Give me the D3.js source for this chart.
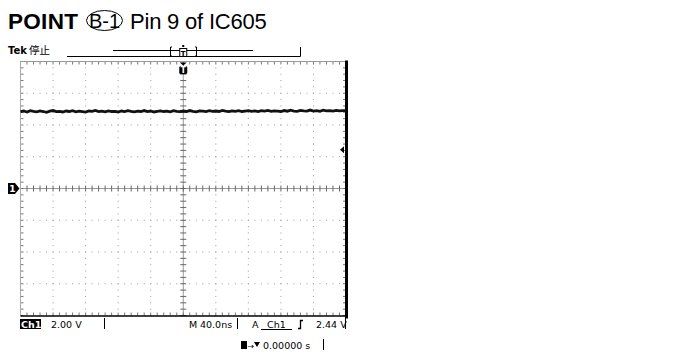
<!DOCTYPE html>
<html><head><meta charset="utf-8">
<script src="https://cdn.jsdelivr.net/npm/d3@7"></script>
<style>body{margin:0;background:#fff}svg{display:block}</style>
</head><body>
<script>
// ---- data ----
const timeDomainNs = [-200, 200];      // 10 div x 40 ns
const voltDomain = [-8, 8];            // 8 div x 2 V
const traceTimes = d3.range(-200, 201, 4);
const traceVolts = [
4.84,4.88,4.82,4.90,4.86,4.83,4.89,4.85,4.80,4.87,
4.91,4.84,4.86,4.82,4.88,4.85,4.90,4.83,4.87,4.84,
4.81,4.88,4.86,4.92,4.84,4.87,4.83,4.89,4.85,4.86,
4.82,4.88,4.84,4.90,4.86,4.83,4.87,4.85,4.91,4.84,
4.88,4.82,4.86,4.89,4.85,4.87,4.83,4.90,4.86,4.84,
4.88,4.85,4.91,4.86,4.83,4.89,4.87,4.84,4.90,4.86,
4.88,4.85,4.92,4.87,4.84,4.89,4.86,4.90,4.85,4.88,
4.91,4.86,4.89,4.84,4.90,4.87,4.92,4.86,4.89,4.88,
4.85,4.91,4.87,4.93,4.88,4.86,4.92,4.89,4.87,4.94,
4.88,4.91,4.86,4.93,4.89,4.90,4.87,4.92,4.89,4.91,4.90];
const triggerLevel = 2.44;
const titleParts = ["POINT", "B-1", "Pin 9 of IC605"];
const readouts = {ch: "Ch1", volts: "2.00 V", time: "40.0ns", trigSrc: "Ch1", trigLevel: "2.44 V", pos: "0.00000 s"};

const W = 689, H = 352;
const svg = d3.select("body").append("svg").attr("width", W).attr("height", H);
const x = d3.scaleLinear().domain(timeDomainNs).range([20.5, 346]);
const y = d3.scaleLinear().domain(voltDomain).range([315.5, 61.5]);
const X0 = x(-200), X1 = x(200), Y0 = y(8), Y1 = y(-8);
const minorT = d3.range(-200, 200.001, 8);
const minorV = d3.range(-8, 8.001, 0.4);
const majorT = d3.range(-200, 200.001, 40);
const majorV = d3.range(-8, 8.001, 2);
const grid = svg.append("g");
const dotCol = "#9a9a9a";

// dotted major grid lines
majorT.filter(t => t !== 0 && Math.abs(t) !== 200).forEach(t => {
  minorV.forEach(v => grid.append("rect").attr("x", x(t) - 0.5).attr("y", y(v) - 0.5).attr("width", 1).attr("height", 1).attr("fill", dotCol));
});
majorV.filter(v => v !== 0 && Math.abs(v) !== 8).forEach(v => {
  minorT.forEach(t => grid.append("rect").attr("x", x(t) - 0.5).attr("y", y(v) - 0.5).attr("width", 1).attr("height", 1).attr("fill", dotCol));
});
// center crosshair
grid.append("line").attr("x1", x(0)).attr("x2", x(0)).attr("y1", Y0).attr("y2", Y1).attr("stroke", "#999").attr("stroke-width", 1);
grid.append("line").attr("x1", X0).attr("x2", X1).attr("y1", y(0)).attr("y2", y(0)).attr("stroke", "#999").attr("stroke-width", 1);
minorV.forEach(v => grid.append("line").attr("x1", x(0) - 3).attr("x2", x(0) + 3).attr("y1", y(v)).attr("y2", y(v)).attr("stroke", "#666"));
minorT.forEach(t => grid.append("line").attr("x1", x(t)).attr("x2", x(t)).attr("y1", y(0) - 3).attr("y2", y(0) + 3).attr("stroke", "#666"));
// border rulers
minorT.forEach(t => {
  grid.append("line").attr("x1", x(t)).attr("x2", x(t)).attr("y1", Y0).attr("y2", Y0 + 3).attr("stroke", "#777");
  grid.append("line").attr("x1", x(t)).attr("x2", x(t)).attr("y1", Y1 - 3).attr("y2", Y1).attr("stroke", "#777");
});
minorV.forEach(v => {
  grid.append("line").attr("x1", X0).attr("x2", X0 + 3).attr("y1", y(v)).attr("y2", y(v)).attr("stroke", "#777");
  grid.append("line").attr("x1", X1 - 3).attr("x2", X1).attr("y1", y(v)).attr("y2", y(v)).attr("stroke", "#777");
});
grid.append("line").attr("x1", X0).attr("x2", X0).attr("y1", Y0).attr("y2", Y1).attr("stroke", "#aaa");
grid.append("line").attr("x1", X0).attr("x2", X1).attr("y1", Y0).attr("y2", Y0).attr("stroke", "#999");
grid.append("line").attr("x1", X0).attr("x2", X1 + 1.5).attr("y1", Y1 + 0.5).attr("y2", Y1 + 0.5).attr("stroke", "#000").attr("stroke-width", 1.5);
grid.append("line").attr("x1", X1 + 0.5).attr("x2", X1 + 0.5).attr("y1", Y0 - 1).attr("y2", Y1 + 3).attr("stroke", "#000").attr("stroke-width", 3);

// trace
const line = d3.line().x((d, i) => x(traceTimes[i])).y(d => y(d));
svg.append("path").datum(traceVolts).attr("d", line).attr("fill", "none").attr("stroke", "#111").attr("stroke-width", 2.8);

// ground marker "1"
const gy = y(0);
svg.append("path").attr("d", `M8,${gy-5.5}H15L19.5,${gy}L15,${gy+5.5}H8Z`).attr("fill", "#000");
svg.append("text").attr("x", 12.5).attr("y", gy + 3.5).attr("text-anchor", "middle").attr("fill", "#fff")
  .attr("font-family", "DejaVu Sans").attr("font-weight", "bold").attr("font-size", 9).text("1");
// trigger level arrow
const ty = y(triggerLevel);
svg.append("path").attr("d", `M340,${ty}L344,${ty-3.5}V${ty+3.5}Z`).attr("fill", "#000");

// trigger position marker at top
const tx = x(0);
svg.append("path").attr("d", `M${tx-3.5},${Y0+1}H${tx+3.5}L${tx},${Y0+4}Z`).attr("fill", "#000");
svg.append("rect").attr("x", tx - 4).attr("y", Y0 + 4.5).attr("width", 8).attr("height", 8).attr("rx", 1.5).attr("fill", "#000");
svg.append("text").attr("x", tx).attr("y", Y0 + 11.5).attr("text-anchor", "middle").attr("fill", "#fff")
  .attr("font-family", "DejaVu Sans").attr("font-weight", "bold").attr("font-size", 8).text("T");

// title
svg.append("text").attr("x", 8).attr("y", 29).attr("font-family", "Liberation Sans, Arial, sans-serif").attr("font-size", 22.5)
  .attr("letter-spacing", 0.3).attr("font-weight", "bold").text(titleParts[0]);
svg.append("text").attr("x", 104.5).attr("y", 28).attr("text-anchor", "middle").attr("font-family", "Liberation Sans, Arial, sans-serif")
  .attr("font-size", 20).text(titleParts[1]);
svg.append("ellipse").attr("cx", 104.5).attr("cy", 20.5).attr("rx", 18).attr("ry", 10).attr("fill", "none").attr("stroke", "#000").attr("stroke-width", 1);
svg.append("text").attr("x", 130).attr("y", 29).attr("font-family", "Liberation Sans, Arial, sans-serif").attr("font-size", 22).attr("letter-spacing", -0.2).text(titleParts[2]);

// header
const mono = "DejaVu Sans";
svg.append("text").attr("x", 8).attr("y", 54).attr("font-family", mono).attr("font-weight", "bold").attr("font-size", 10).text("Tek");
svg.append("text").attr("x", 29).attr("y", 54).attr("font-family", "Noto Sans CJK JP").attr("font-size", 10.5).text("停止");
svg.append("path").attr("d", "M67,56.5H300.5V47").attr("fill", "none").attr("stroke", "#000");
svg.append("line").attr("x1", 113).attr("x2", 253).attr("y1", 50.5).attr("y2", 50.5).attr("stroke", "#000");
svg.append("path").attr("d", "M172,47H170.5V56H172").attr("fill", "none").attr("stroke", "#000");
svg.append("path").attr("d", "M195,47H196.5V56H195").attr("fill", "none").attr("stroke", "#000");
svg.append("rect").attr("x", tx - 3.5).attr("y", 48.5).attr("width", 7).attr("height", 8).attr("fill", "#fff").attr("stroke", "#000");
svg.append("text").attr("x", tx).attr("y", 55.5).attr("text-anchor", "middle").attr("font-family", mono).attr("font-weight", "bold").attr("font-size", 7).text("T");
svg.append("rect").attr("x", tx - 1).attr("y", 45).attr("width", 2).attr("height", 2).attr("fill", "#000");

// bottom readouts
const by = 328;
svg.append("rect").attr("x", 20).attr("y", 319).attr("width", 21).attr("height", 10).attr("fill", "#000");
svg.append("text").attr("x", 21).attr("y", by).attr("fill", "#fff").attr("font-family", mono).attr("font-weight", "bold").attr("font-size", 9.5).text(readouts.ch);
svg.append("text").attr("x", 51).attr("y", by).attr("font-family", mono).attr("font-size", 9.5).text(readouts.volts);
svg.append("line").attr("x1", 104.5).attr("x2", 104.5).attr("y1", 318).attr("y2", 329).attr("stroke", "#000");
svg.append("text").attr("x", 189).attr("y", by).attr("font-family", mono).attr("font-size", 9.5).text("M");
svg.append("text").attr("x", 200).attr("y", by).attr("font-family", mono).attr("font-size", 9.5).text(readouts.time);
svg.append("line").attr("x1", 237.5).attr("x2", 237.5).attr("y1", 318).attr("y2", 329).attr("stroke", "#000");
svg.append("text").attr("x", 252).attr("y", by).attr("font-family", mono).attr("font-size", 9.5).text("A");
svg.append("line").attr("x1", 261).attr("x2", 292).attr("y1", 329.5).attr("y2", 329.5).attr("stroke", "#000");
svg.append("text").attr("x", 267).attr("y", by).attr("font-family", mono).attr("font-size", 9.5).text(readouts.trigSrc);
svg.append("path").attr("d", "M298,328.5H300.5V320.5H303").attr("fill", "none").attr("stroke", "#000").attr("stroke-width", 1.3);
svg.append("text").attr("x", 316).attr("y", by).attr("font-family", mono).attr("font-size", 9.5).text(readouts.trigLevel);
svg.append("line").attr("x1", 345.5).attr("x2", 345.5).attr("y1", 318).attr("y2", 329).attr("stroke", "#000");

// position readout
svg.append("rect").attr("x", 241).attr("y", 341).attr("width", 6).attr("height", 8).attr("fill", "#000");
svg.append("text").attr("x", 247.5).attr("y", 348.5).attr("font-family", mono).attr("font-size", 8).text("→");
svg.append("path").attr("d", "M254,342H260L257,347Z").attr("fill", "#000");
svg.append("text").attr("x", 263).attr("y", 349).attr("font-family", mono).attr("font-size", 9.5).text(readouts.pos);
svg.append("line").attr("x1", 323.5).attr("x2", 323.5).attr("y1", 339).attr("y2", 350).attr("stroke", "#000");
</script>
</body></html>
